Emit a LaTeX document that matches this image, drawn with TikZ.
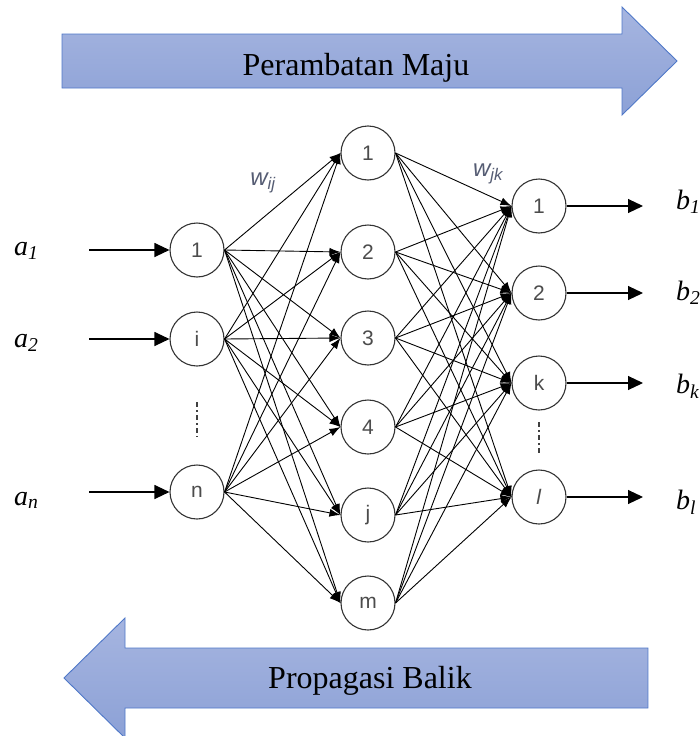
\documentclass[tikz,border=0pt]{standalone}
\usepackage{fontspec}
\setmainfont{Liberation Serif}
\setsansfont{Liberation Sans}
\usetikzlibrary{positioning, arrows.meta}
\definecolor{arrowtop}{RGB}{166,181,224}
\definecolor{arrowbot}{RGB}{140,161,214}
\definecolor{arrowedge}{RGB}{79,120,200}
\definecolor{wcolor}{RGB}{85,92,115}
\tikzstyle{neuron} = [circle, draw=black!80, line width=1.1pt, minimum size=54pt, inner sep=0pt, text=black!70, font=\sffamily\fontsize{21}{21}\selectfont]
\tikzstyle{arrow} = [line width=0.9pt, -{Latex[length=11pt,width=8pt]}]
\tikzstyle{ioarrow} = [line width=1.1pt, -{Triangle[length=15pt,width=14pt]}]
\tikzstyle{bigarrow} = [draw=arrowedge, line width=0.9pt, top color=arrowtop, bottom color=arrowbot]
\tikzstyle{banner} = [font=\fontsize{32}{38}\selectfont, inner sep=0pt]
\tikzstyle{iolabel} = [font=\itshape\fontsize{28}{32}\selectfont, inner sep=0pt]
\tikzstyle{weight} = [text=wcolor, font=\sffamily\itshape\fontsize{24}{26}\selectfont]
\tikzstyle{dotline} = [black!75, line width=1.3pt, dash pattern=on 5pt off 3pt on 2pt off 3pt]

\begin{document}
\begin{tikzpicture}[x=1pt, y=-1pt]
			\useasboundingbox (0,0) rectangle (700,736);
			%上下两个大箭头
			\draw [bigarrow] (62,34) -- (622,34) -- (622,7) -- (677,61) -- (622,115) -- (622,88) -- (62,88) -- cycle;
			\node (fwd) [banner, anchor=base] at (356,75) {Perambatan Maju};
			\draw [bigarrow] (648,648) -- (125,648) -- (125,618) -- (64,678) -- (125,738) -- (125,708) -- (648,708) -- cycle;
			\node (bwd) [banner, anchor=base] at (370,688) {Propagasi Balik};
			
			%输入层
			\node (in1) [neuron] at (197,250) {1};
			\node (in2) [neuron] at (197,339) {i};
			\node (in3) [neuron] at (197,492) {n};
			%隐含层
			\node (hid1) [neuron] at (368,153) {1};
			\node (hid2) [neuron] at (368,252) {2};
			\node (hid3) [neuron] at (368,338) {3};
			\node (hid4) [neuron] at (368,427) {4};
			\node (hid5) [neuron] at (368,515) {j};
			\node (hid6) [neuron] at (368,603) {m};
			%输出层
			\node (out1) [neuron] at (539,206) {1};
			\node (out2) [neuron] at (539,293) {2};
			\node (out3) [neuron] at (539,383) {k};
			\node (out4) [neuron] at (539,497) {\textit{l}};
			
			%输入输出标签
			\node (a1) [iolabel, anchor=base west] at (14,255) {a\textsubscript{1}};
			\node (a2) [iolabel, anchor=base west] at (14,347) {a\textsubscript{2}};
			\node (an) [iolabel, anchor=base west] at (14,505) {a\textsubscript{n}};
			\node (b1) [iolabel, anchor=base west] at (676,209) {b\textsubscript{1}};
			\node (b2) [iolabel, anchor=base west] at (676,300) {b\textsubscript{2}};
			\node (bk) [iolabel, anchor=base west] at (676,393) {b\textsubscript{k}};
			\node (bl) [iolabel, anchor=base west] at (676,509) {b\textsubscript{l}};
			\node (wij) [weight] at (263,183) {w\textsubscript{ij}};
			\node (wjk) [weight] at (488,174) {w\textsubscript{jk}};
			
			%箭头端点和省略号
			\coordinate (ina1) at (89,250);
			\coordinate (ina2) at (89,339);
			\coordinate (ina3) at (89,492);
			\coordinate (outb1) at (643,206);
			\coordinate (outb2) at (643,293);
			\coordinate (outb3) at (643,383);
			\coordinate (outb4) at (643,497);
			\coordinate (indot1) at (197,402);
			\coordinate (indot2) at (197,437);
			\coordinate (outdot1) at (539,422);
			\coordinate (outdot2) at (539,455);
			\draw [dotline] (indot1) -- (indot2);
			\draw [dotline] (outdot1) -- (outdot2);
			
			%连接
			\draw [ioarrow](ina1) -- (in1);
			\draw [ioarrow](ina2) -- (in2);
			\draw [ioarrow](ina3) -- (in3);
			\draw [ioarrow](out1) -- (outb1);
			\draw [ioarrow](out2) -- (outb2);
			\draw [ioarrow](out3) -- (outb3);
			\draw [ioarrow](out4) -- (outb4);
			\foreach \i in {1,2,3}
				\foreach \j in {1,...,6}
					\draw [arrow](in\i.east) -- (hid\j.west);
			\foreach \j in {1,...,6}
				\foreach \k in {1,...,4}
					\draw [arrow](hid\j.east) -- (out\k.west);
		\end{tikzpicture}
\end{document}
